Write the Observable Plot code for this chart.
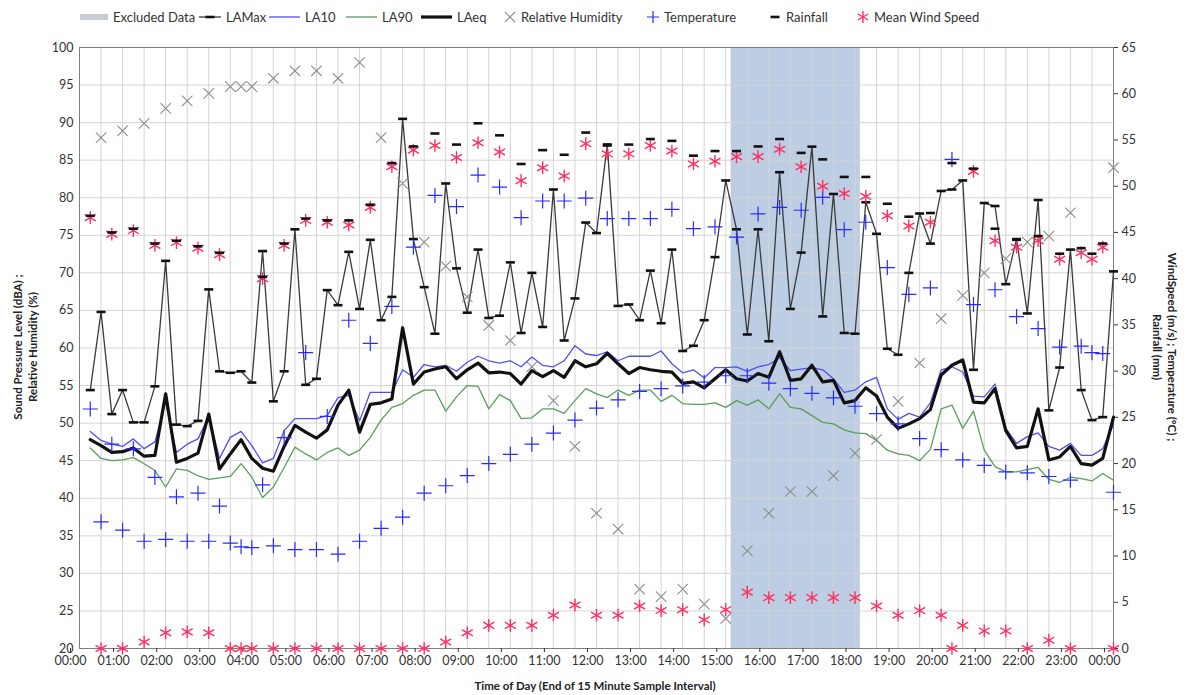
<!DOCTYPE html>
<html><head><meta charset="utf-8">
<script src="https://cdn.jsdelivr.net/npm/d3@7"></script>
<script src="https://cdn.jsdelivr.net/npm/@observablehq/plot@0.6"></script>
<style>
body{margin:0;background:#fff;font-family:Lato,"Liberation Sans",sans-serif;color:#333;}
#wrap{position:relative;width:1190px;height:695px;overflow:hidden;}
#wrap > svg{position:absolute;left:0;top:0;}
.leg{position:absolute;top:9px;font-size:13px;white-space:nowrap;display:flex;align-items:center;}
.leg svg{position:static;margin-right:5px;flex:none;}
.title{position:absolute;font-weight:bold;font-size:11.5px;white-space:nowrap;text-align:center;line-height:15px;color:#222;}
</style></head><body><div id="wrap"></div>
<script>
// ---- Data (15-minute intervals, end of interval; index 0 = 00:15) ----
const intervalMinutes = 15;
const laMax = [54.4,64.8,51.2,54.4,50.1,50.1,54.9,71.6,49.8,49.6,50.3,67.8,56.9,56.7,56.9,55.4,
  72.9,52.9,56.9,75.8,55.1,55.9,67.7,65.7,72.8,65.2,74.4,63.7,66.8,90.5,74.5,68.1,
  61.9,81.9,70.6,64.7,73.1,64.0,64.3,71.4,62.0,70.0,62.8,81.1,61.0,66.6,76.7,75.3,
  87.1,65.6,65.8,63.7,70.3,63.3,73.1,59.6,60.3,63.7,72.1,82.3,75.8,61.8,75.8,60.9,
  83.4,65.2,72.7,86.8,64.2,80.5,62.0,61.9,79.4,75.2,59.9,59.1,70.0,77.9,73.9,80.9,
  81.1,82.3,57.1,79.3,78.9,68.5,74.5,64.6,79.7,51.7,57.4,73.1,54.4,50.4,50.8,70.2];
const la10 = [48.9,47.7,47.2,46.9,47.9,46.6,47.5,52.8,46.1,47.2,47.9,50.9,45.3,48.1,48.9,47.0,
  44.7,45.3,49.0,50.6,50.6,50.6,51.0,53.4,53.7,50.3,54.1,54.1,54.1,57.1,56.1,57.8,
  57.5,57.7,56.9,58.1,58.9,58.3,58.0,58.3,57.5,58.8,57.7,57.5,58.3,60.3,59.2,59.0,
  59.5,58.3,58.9,58.9,58.9,59.6,57.9,56.7,57.1,56.0,57.4,57.4,57.5,56.9,57.5,57.8,
  58.7,57.0,57.2,57.4,57.1,55.9,54.1,54.4,55.5,56.1,51.9,50.5,51.3,50.8,52.7,57.1,
  57.5,56.8,53.6,53.5,55.2,49.3,47.3,48.2,48.7,46.9,46.4,47.3,45.7,45.7,46.6,49.8];
const la90 = [46.7,45.3,45.0,45.1,45.4,44.6,43.7,41.5,43.9,43.7,43.0,42.5,42.7,42.9,44.6,42.8,
  40.1,41.5,44.1,46.8,45.9,45.1,46.1,46.7,45.7,46.4,48.1,50.4,52.1,52.6,53.7,54.4,
  54.4,51.6,53.5,55.0,54.9,51.9,53.8,53.0,50.6,50.7,51.9,51.9,51.3,53.0,54.6,53.9,
  53.4,54.4,53.7,54.4,54.4,52.9,53.7,52.6,52.5,52.5,52.7,52.1,53.0,52.4,53.1,51.9,
  53.9,52.1,51.9,51.0,50.1,49.9,49.1,48.7,48.6,47.7,46.4,45.9,45.7,45.0,46.5,51.9,
  52.4,49.3,51.6,46.4,44.2,43.5,43.5,43.8,44.1,42.5,42.1,42.8,42.6,42.3,43.3,42.4];
const laEq = [47.8,47.0,46.1,46.2,46.7,45.6,45.7,53.9,44.8,45.3,46.0,51.2,43.9,45.9,47.8,45.3,
  44.0,43.6,46.9,49.7,48.8,48.0,49.1,52.4,54.4,48.8,52.5,52.7,53.2,62.7,55.2,56.8,
  57.2,57.5,55.9,57.1,58.0,56.7,56.8,56.6,55.2,57.0,56.2,57.0,56.1,58.3,57.5,57.9,
  59.3,57.9,56.6,57.4,57.1,56.9,56.8,55.3,55.5,54.7,55.9,57.1,55.9,55.6,56.6,56.1,
  59.5,55.7,55.9,57.7,55.5,55.7,52.7,53.0,54.7,53.6,50.8,49.3,49.9,50.6,51.8,56.4,
  57.7,58.4,52.8,52.7,54.6,49.0,46.7,46.9,51.9,45.1,45.5,46.9,44.6,44.4,45.3,50.8];

// Weather (minutes after midnight)
const humidityTimes = [30,60,90,120,150,180,210,225,240,270,300,330,360,390,420,450,480,510,540,570,600,630,660,690,720,750,780,810,840,870,900,930,960,990,1020,1050,1080,1110,1140,1170,1200,1230,1260,1290,1320,1350,1380,1440];
const humidityValues = [88.0,88.9,89.9,91.9,92.9,93.9,94.8,94.8,94.8,95.9,96.9,96.9,95.9,98.0,88.0,81.9,74.1,70.9,66.8,63.0,61.0,57.5,53.0,46.9,38.0,35.9,27.9,26.9,27.9,25.9,24.0,33.0,38.0,40.9,40.9,43.0,46.0,47.8,52.9,58.0,63.9,67.0,70.0,71.9,74.1,74.9,78.0,84.0];

const temperatureTimes = [30,60,90,120,150,180,210,225,240,270,300,330,360,390,420,450,480,510,540,570,600,630,660,690,720,750,780,810,840,870,900,930,960,990,1020,1050,1080,1110,1140,1170,1200,1230,1260,1290,1320,1350,1380,1440];
const temperatureValues = [13.7,12.8,11.6,11.8,11.6,11.6,11.4,11.0,10.9,11.1,10.7,10.7,10.2,11.6,13.0,14.2,16.8,17.6,18.7,20.0,21.0,22.1,23.3,24.7,26.0,26.9,27.8,28.1,28.4,28.8,29.5,29.5,28.7,28.1,27.6,27.1,26.2,25.4,24.3,22.7,21.5,20.4,19.8,19.1,19.0,18.6,18.2,16.9];
const temperature2Times = [15,45,75,105,135,165,195,255,285,315,345,375,405,435,465,495,525,555,585,615,645,675,705,735,765,795,825,855,885,915,945,975,1005,1035,1065,1095,1125,1155,1185,1215,1245,1275,1305,1335,1365,1395,1410,1425];
const temperature2Values = [25.9,22.1,21.6,18.5,16.4,16.8,15.4,17.7,22.8,32.0,25.1,35.5,33.0,37.0,43.4,49.0,47.8,51.2,49.9,46.6,48.4,48.4,48.7,46.5,46.5,46.5,47.5,45.4,45.6,44.5,47.0,47.7,47.4,48.8,45.3,46.1,41.2,38.3,39.0,52.9,37.2,38.8,35.9,34.6,32.6,32.7,32.0,31.9];

const rainfallTimes = [15,45,75,105,135,165,195,255,285,315,345,375,405,435,465,495,525,555,585,615,645,675,705,735,765,795,825,855,885,915,945,975,1005,1035,1065,1095,1125,1155,1185,1215,1245,1275,1305,1335,1365,1395,1410,1425];
const rainfallValues = [46.8,45.0,45.4,43.8,44.1,43.5,42.8,40.2,43.8,46.5,46.3,46.3,48.0,52.5,54.3,55.7,54.5,56.8,55.5,52.4,53.9,53.4,55.8,54.4,54.5,55.1,54.9,53.3,53.8,53.8,54.3,55.1,53.6,52.9,51.0,51.0,48.1,46.7,47.1,52.5,51.9,45.4,44.2,44.6,42.7,43.3,42.7,43.8];

const windTimes = [30,60,90,120,150,180,210,225,240,270,300,330,360,390,420,450,480,510,540,570,600,630,660,690,720,750,780,810,840,870,900,930,960,990,1020,1050,1080,1110,1140,1170,1200,1215,1230,1260,1290,1320,1350,1380,1440];
const windValues = [0,0,0.7,1.7,1.8,1.7,0,0,0,0,0,0,0,0,0,0,0,0.7,1.7,2.5,2.5,2.5,3.6,4.7,3.6,3.6,4.6,4.1,4.2,3.1,4.2,6.1,5.5,5.5,5.5,5.5,5.5,4.6,3.6,4.1,3.6,0,2.5,1.9,1.9,0,0.9,0,0];
const wind2Times = [15,45,75,105,135,165,195,255,285,315,345,375,405,435,465,495,525,555,585,615,645,675,705,735,765,795,825,855,885,915,945,975,1005,1035,1065,1095,1125,1155,1185,1245,1275,1305,1335,1365,1395,1410,1425];
const wind2Values = [46.6,44.8,45.2,43.6,43.9,43.3,42.6,40.0,43.6,46.3,46.1,45.8,47.7,52.1,53.9,54.4,53.1,54.7,53.7,50.6,52.0,51.1,54.6,53.5,53.5,54.4,53.8,52.4,52.7,53.2,53.2,54.0,52.1,50.0,49.2,48.9,46.8,45.7,46.1,51.6,44.1,43.4,44.1,42.1,42.8,42.1,43.4];

const excludedPeriods = [{start: 907.5, end: 1087.5}];
const leftTicks = d3.range(20, 101, 5);
const rightTicks = d3.range(0, 66, 5);
const hourTicks = d3.range(0, 1441, 60);
const halfHourGrid = d3.range(0, 1441, 30);

// ---- build tables ----
const toLeft = r => 20 + r * 80 / 65;       // right-axis units -> left-axis scale
const fromLeft = v => (v - 20) * 65 / 80;
const noise = laMax.map((v, i) => ({t: (i + 1) * intervalMinutes, laMax: v, la10: la10[i], la90: la90[i], laEq: laEq[i]}));
const pts = (ts, vs, f = d => d) => ts.map((t, i) => ({t, v: f(vs[i])}));
const humidity = pts(humidityTimes, humidityValues);
const temperature = pts(temperatureTimes, temperatureValues, toLeft);
const temperature2 = pts(temperature2Times, temperature2Values, toLeft);
const rainfall = pts(rainfallTimes, rainfallValues, toLeft);
const wind = pts(windTimes, windValues, toLeft);
const wind2 = pts(wind2Times, wind2Values, toLeft);

const dash = {draw(ctx) { ctx.moveTo(-4.5, -1.3); ctx.lineTo(4.5, -1.3); ctx.lineTo(4.5, 1.3); ctx.lineTo(-4.5, 1.3); ctx.closePath(); }};
const fmtHour = m => String((m / 60) % 24).padStart(2, "0") + ":00";

const C = {grid: "#d4d4d4", la10: "#5050ee", la90: "#5a9e5a", lamax: "#3a3a3a", hum: "#8a8f8a", temp: "#2a2aff", wind: "#ff2f5f", shade: "#bccde4"};

const chart = Plot.plot({
  width: 1190, height: 695,
  marginLeft: 79, marginRight: 77, marginTop: 47, marginBottom: 47,
  style: {fontFamily: "Lato, 'Liberation Sans', sans-serif", fontSize: "12.5px", color: "#333", background: "transparent", overflow: "visible"},
  x: {domain: [0, 1440]},
  y: {domain: [20, 100]},
  marks: [
    Plot.rectY(excludedPeriods, {x1: "start", x2: "end", y1: 20, y2: 100, fill: C.shade}),
    Plot.gridY(leftTicks, {stroke: C.grid, strokeOpacity: 1}),
    Plot.gridX(halfHourGrid, {stroke: C.grid, strokeOpacity: 1}),
    Plot.frame({stroke: "#7f7f7f"}),
    Plot.axisX(hourTicks, {tickFormat: fmtHour, tickSize: 4, tickPadding: 4, fontSize: 12.5, dx: -9, label: null}),
    Plot.axisY(leftTicks, {anchor: "left", tickSize: 0, tickPadding: 6, fontSize: 12.5, label: null}),
    Plot.axisY(rightTicks.map(toLeft), {anchor: "right", tickSize: 4, tickPadding: 4, fontSize: 12.5, tickFormat: d => Math.round(fromLeft(d)), label: null}),
    Plot.lineY(noise, {x: "t", y: "la90", stroke: C.la90, strokeWidth: 1.3}),
    Plot.lineY(noise, {x: "t", y: "la10", stroke: C.la10, strokeWidth: 1.3}),
    Plot.lineY(noise, {x: "t", y: "laMax", stroke: C.lamax, strokeWidth: 1.3}),
    Plot.dot(noise, {x: "t", y: "laMax", symbol: dash, fill: "#111", stroke: "none", r: 3}),
    Plot.lineY(noise, {x: "t", y: "laEq", stroke: "#111", strokeWidth: 3.2}),
    Plot.dot(humidity, {x: "t", y: "v", symbol: "times", stroke: C.hum, r: 4.8, strokeWidth: 1.1}),
    Plot.dot(temperature, {x: "t", y: "v", symbol: "plus", stroke: C.temp, r: 4.9, strokeWidth: 1.2}),
    Plot.dot(temperature2, {x: "t", y: "v", symbol: "plus", stroke: C.temp, r: 4.9, strokeWidth: 1.2}),
    Plot.dot(wind, {x: "t", y: "v", symbol: "asterisk", stroke: C.wind, r: 6, strokeWidth: 1.4}),
    Plot.dot(wind2, {x: "t", y: "v", symbol: "asterisk", stroke: C.wind, r: 6, strokeWidth: 1.4}),
    Plot.dot(rainfall, {x: "t", y: "v", symbol: dash, fill: "#111", stroke: "none", r: 3})
  ]
});
const wrap = document.getElementById("wrap");
wrap.appendChild(chart);

// ---- legend ----
const legendItems = [
  {label: "Excluded Data", left: 80, sw: `<line x1="0" y1="6" x2="28" y2="6" stroke="#c9cbd3" stroke-width="6"/>`, w: 28},
  {label: "LAMax", left: 199, sw: `<line x1="0" y1="6" x2="22" y2="6" stroke="${C.lamax}" stroke-width="1.3"/><rect x="6.5" y="4.7" width="9" height="2.6" fill="#111"/>`, w: 22},
  {label: "LA10", left: 269, sw: `<line x1="0" y1="6" x2="31" y2="6" stroke="${C.la10}" stroke-width="1.3"/>`, w: 31},
  {label: "LA90", left: 346, sw: `<line x1="0" y1="6" x2="31" y2="6" stroke="${C.la90}" stroke-width="1.3"/>`, w: 31},
  {label: "LAeq", left: 421, sw: `<line x1="0" y1="6" x2="31" y2="6" stroke="#111" stroke-width="3.2"/>`, w: 31},
  {label: "Relative Humidity", left: 504, sw: `<path d="M1,1L11,11M1,11L11,1" stroke="${C.hum}" stroke-width="1.1"/>`, w: 12},
  {label: "Temperature", left: 647, sw: `<path d="M6,0V12M0,6H12" stroke="${C.temp}" stroke-width="1.2"/>`, w: 12},
  {label: "Rainfall", left: 769, sw: `<rect x="1.5" y="4.7" width="9" height="2.6" fill="#111"/>`, w: 12},
  {label: "Mean Wind Speed", left: 857, sw: `<path d="M6,0V12M0.8,3L11.2,9M0.8,9L11.2,3" stroke="${C.wind}" stroke-width="1.4"/>`, w: 12}
];
for (const it of legendItems) {
  const d = document.createElement("div");
  d.className = "leg";
  d.style.left = it.left + "px";
  d.innerHTML = `<svg width="${it.w}" height="12" style="overflow:visible">${it.sw}</svg><span>${it.label}</span>`;
  wrap.appendChild(d);
}

// ---- axis titles ----
function title(html, cx, cy, rot) {
  const d = document.createElement("div");
  d.className = "title";
  d.innerHTML = html;
  d.style.left = cx + "px"; d.style.top = cy + "px";
  d.style.transform = `translate(-50%,-50%) rotate(${rot}deg)`;
  wrap.appendChild(d);
}
title("Sound Pressure Level (dBA) ;<br>Relative Humidity (%)", 25, 347, -90);
title("WindSpeed (m/s) ; Temperature (°C) ;<br>Rainfall (mm)", 1165, 347, 90);
title("Time of Day (End of 15 Minute Sample Interval)", 595, 685, 0);
</script></body></html>
